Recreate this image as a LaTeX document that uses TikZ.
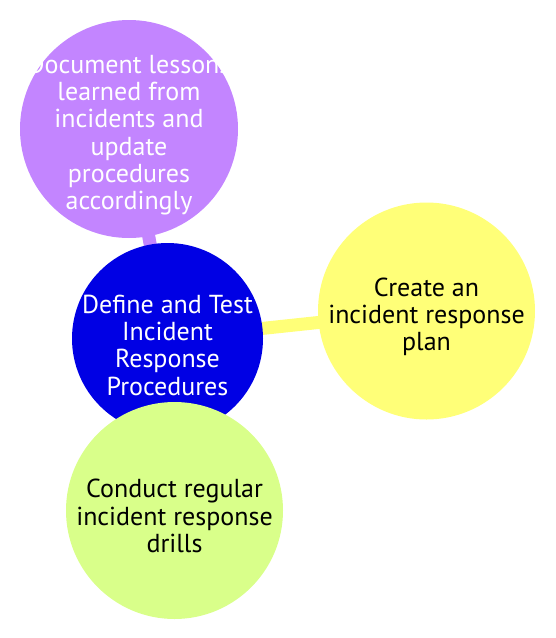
\documentclass[tikz,border=0pt]{standalone}
\usepackage{fontspec}
\setmainfont{PT Sans}
\usetikzlibrary{backgrounds}
\definecolor{cpurple}{HTML}{C385FF}
\definecolor{cblue}{HTML}{0000E4}
\definecolor{cyellow}{HTML}{FFFF78}
\definecolor{cgreen}{HTML}{D9FF8A}
\tikzset{
  bubble/.style={circle, draw=none, inner sep=0pt},
  label text/.style={inner sep=0pt, align=center,
    font=\fontsize{26}{27.3}\selectfont},
  link/.style={line width=13pt}
}
\begin{document}
\begin{tikzpicture}[x=1pt,y=-1pt]
\useasboundingbox (0,0) rectangle (555,638);
\node[bubble, fill=cpurple, minimum size=218pt] (doc) at (129,129) {};
\node[label text, text=white] (doct) at (129,135) {Document lessons\\learned from\\incidents and\\update\\procedures\\accordingly};
\node[bubble, fill=cblue, minimum size=191pt] (root) at (167.5,338.5) {};
\node[label text, text=white] (roott) at (167.5,345) {Define and Test\\Incident\\Response\\Procedures};
\node[bubble, fill=cyellow, minimum size=217pt] (plan) at (426.5,311) {};
\node[label text, text=black] (plant) at (426.5,317) {Create an\\incident response\\plan};
\node[bubble, fill=cgreen, minimum size=217pt] (drill) at (174.5,510.5) {};
\node[label text, text=black] (drillt) at (174.5,516) {Conduct regular\\incident response\\drills};
\begin{scope}[on background layer]
\draw[link, cpurple] (root.center) -- (doc.center);
\draw[link, cyellow] (root.center) -- (plan.center);
\draw[link, cgreen] (root.center) -- (drill.center);
\end{scope}
\end{tikzpicture}
\end{document}
